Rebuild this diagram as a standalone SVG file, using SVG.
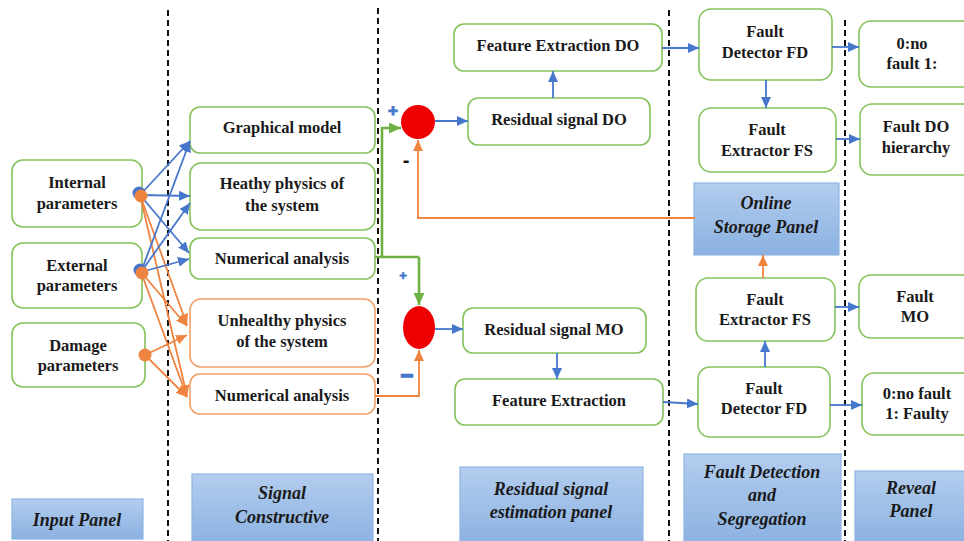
<svg xmlns="http://www.w3.org/2000/svg" width="964" height="541" viewBox="0 0 964 541">
  <style>
    .box { fill: #ffffff; stroke: #84c35c; stroke-width: 1.6; }
    .obox { fill: #ffffff; stroke: #f3a068; stroke-width: 1.6; }
    .panel { fill: url(#panelFill); stroke: #8fb5e3; stroke-width: 1.2; }
    .t { font-family: "Liberation Serif", "Times New Roman", serif; font-weight: bold; font-size: 16.5px; fill: #1a1a1a; text-anchor: middle; }
    .pt { font-family: "Liberation Serif", "Times New Roman", serif; font-weight: bold; font-style: italic; font-size: 18px; fill: #1a1a1a; text-anchor: middle; }
    .sep { stroke: #111111; stroke-width: 2; stroke-dasharray: 6 4; fill: none; }
    .blue { stroke: #4677cc; stroke-width: 1.8; fill: none; }
    .orange { stroke: #ef8440; stroke-width: 1.8; fill: none; }
    .green { stroke: #6fb043; stroke-width: 2.6; fill: none; }
    .ab { marker-end: url(#arrBlue); }
    .ao { marker-end: url(#arrOrange); }
    .ag { marker-end: url(#arrGreen); }
    .sign { font-family: "Liberation Sans", Arial, sans-serif; font-weight: bold; text-anchor: middle; }
  </style>
  <defs>
    <linearGradient id="panelFill" x1="0" y1="0" x2="0" y2="1">
      <stop offset="0" stop-color="#b3cdee"/>
      <stop offset="1" stop-color="#8ab1e1"/>
    </linearGradient>
    <marker id="arrBlue" markerUnits="userSpaceOnUse" markerWidth="11" markerHeight="10" refX="11" refY="5" orient="auto">
      <path d="M0,0 L11,5 L0,10 z" fill="#4677cc"/>
    </marker>
    <marker id="arrOrange" markerUnits="userSpaceOnUse" markerWidth="11" markerHeight="10" refX="11" refY="5" orient="auto">
      <path d="M0,0 L11,5 L0,10 z" fill="#ef8440"/>
    </marker>
    <marker id="arrGreen" markerUnits="userSpaceOnUse" markerWidth="12" markerHeight="11" refX="12" refY="5.5" orient="auto">
      <path d="M0,0 L12,5.5 L0,11 z" fill="#6fb043"/>
    </marker>
  </defs>

  <rect width="964" height="541" fill="#ffffff"/>

  <!-- panel separators -->
  <g id="separators">
    <line class="sep" x1="168" y1="10" x2="168" y2="541"/>
    <line class="sep" x1="378" y1="8" x2="378" y2="541"/>
    <line class="sep" x1="669" y1="10" x2="669" y2="541"/>
    <line class="sep" x1="845" y1="20" x2="845" y2="541"/>
  </g>

  <!-- input panel -->
  <g id="internal-parameters">
    <rect class="box" x="12" y="160" width="130" height="67" rx="11"/>
    <text class="t" x="77" y="188">Internal</text>
    <text class="t" x="77" y="209">parameters</text>
  </g>
  <g id="external-parameters">
    <rect class="box" x="12" y="243" width="130" height="65" rx="11"/>
    <text class="t" x="77" y="271">External</text>
    <text class="t" x="77" y="291">parameters</text>
  </g>
  <g id="damage-parameters">
    <rect class="box" x="12" y="323" width="133" height="64" rx="11"/>
    <text class="t" x="78" y="351">Damage</text>
    <text class="t" x="78" y="371">parameters</text>
  </g>

  <!-- signal construction -->
  <g id="graphical-model">
    <rect class="box" x="190" y="107" width="185" height="46" rx="10"/>
    <text class="t" x="282" y="133">Graphical model</text>
  </g>
  <g id="healthy-physics">
    <rect class="box" x="190" y="163" width="185" height="67" rx="11"/>
    <text class="t" x="282" y="189">Heathy physics of</text>
    <text class="t" x="282" y="211">the system</text>
  </g>
  <g id="numerical-analysis-healthy">
    <rect class="box" x="190" y="238" width="185" height="41" rx="10"/>
    <text class="t" x="282" y="264">Numerical analysis</text>
  </g>
  <g id="unhealthy-physics">
    <rect class="obox" x="190" y="299" width="185" height="68" rx="11"/>
    <text class="t" x="282" y="326">Unhealthy physics</text>
    <text class="t" x="282" y="347">of the system</text>
  </g>
  <g id="numerical-analysis-unhealthy">
    <rect class="obox" x="190" y="374" width="185" height="40" rx="10"/>
    <text class="t" x="282" y="401">Numerical analysis</text>
  </g>

  <!-- residual estimation -->
  <g id="comparator-do">
    <circle cx="418" cy="122" r="17" fill="#ee0000"/>
  </g>
  <g id="comparator-mo">
    <ellipse cx="419" cy="327.5" rx="16" ry="21.5" fill="#ee0000"/>
  </g>
  <g id="feature-extraction-do">
    <rect class="box" x="454" y="24" width="208" height="47" rx="10"/>
    <text class="t" x="558" y="51">Feature Extraction DO</text>
  </g>
  <g id="residual-signal-do">
    <rect class="box" x="468" y="98" width="182" height="47" rx="10"/>
    <text class="t" x="559" y="125">Residual signal DO</text>
  </g>
  <g id="residual-signal-mo">
    <rect class="box" x="463" y="308" width="183" height="45" rx="10"/>
    <text class="t" x="554" y="335">Residual signal MO</text>
  </g>
  <g id="feature-extraction-mo">
    <rect class="box" x="455" y="379" width="208" height="46" rx="10"/>
    <text class="t" x="559" y="406">Feature Extraction</text>
  </g>

  <!-- fault detection and segregation -->
  <g id="fault-detector-do">
    <rect class="box" x="699" y="9" width="133" height="71" rx="12"/>
    <text class="t" x="765" y="37">Fault</text>
    <text class="t" x="765" y="58">Detector FD</text>
  </g>
  <g id="fault-extractor-do">
    <rect class="box" x="699" y="108" width="137" height="64" rx="12"/>
    <text class="t" x="767" y="135">Fault</text>
    <text class="t" x="767" y="156">Extractor FS</text>
  </g>
  <g id="online-storage-panel">
    <rect class="panel" x="694" y="183" width="145" height="72"/>
    <text class="pt" x="766" y="209">Online</text>
    <text class="pt" x="766" y="233">Storage Panel</text>
  </g>
  <g id="fault-extractor-mo">
    <rect class="box" x="696" y="278" width="139" height="63" rx="12"/>
    <text class="t" x="765" y="305">Fault</text>
    <text class="t" x="765" y="325">Extractor FS</text>
  </g>
  <g id="fault-detector-mo">
    <rect class="box" x="698" y="367" width="132" height="70" rx="12"/>
    <text class="t" x="764" y="394">Fault</text>
    <text class="t" x="764" y="414">Detector FD</text>
  </g>

  <!-- reveal -->
  <g id="reveal-do-state">
    <rect class="box" x="859" y="21" width="115" height="66" rx="12"/>
    <text class="t" x="912" y="49">0:no</text>
    <text class="t" x="912" y="69">fault 1:</text>
  </g>
  <g id="reveal-do-hierarchy">
    <rect class="box" x="860" y="104" width="114" height="71" rx="12"/>
    <text class="t" x="916" y="132">Fault DO</text>
    <text class="t" x="916" y="153">hierarchy</text>
  </g>
  <g id="reveal-mo-fault">
    <rect class="box" x="859" y="275" width="115" height="63" rx="12"/>
    <text class="t" x="915" y="302">Fault</text>
    <text class="t" x="915" y="322">MO</text>
  </g>
  <g id="reveal-mo-state">
    <rect class="box" x="862" y="373" width="112" height="62" rx="12"/>
    <text class="t" x="917" y="399">0:no fault</text>
    <text class="t" x="917" y="419">1: Faulty</text>
  </g>

  <!-- panel captions -->
  <g id="caption-input">
    <rect class="panel" x="12" y="499" width="131" height="40"/>
    <text class="pt" x="77" y="526">Input Panel</text>
  </g>
  <g id="caption-signal">
    <rect class="panel" x="192" y="474" width="181" height="72"/>
    <text class="pt" x="282" y="499">Signal</text>
    <text class="pt" x="282" y="523">Constructive</text>
  </g>
  <g id="caption-residual">
    <rect class="panel" x="460" y="467" width="183" height="79"/>
    <text class="pt" x="551" y="495">Residual signal</text>
    <text class="pt" x="551" y="518">estimation panel</text>
  </g>
  <g id="caption-fault">
    <rect class="panel" x="684" y="454" width="157" height="92"/>
    <text class="pt" x="762" y="478">Fault Detection</text>
    <text class="pt" x="762" y="501">and</text>
    <text class="pt" x="762" y="525">Segregation</text>
  </g>
  <g id="caption-reveal">
    <rect class="panel" x="855" y="471" width="115" height="75"/>
    <text class="pt" x="911" y="494">Reveal</text>
    <text class="pt" x="911" y="517">Panel</text>
  </g>

  <!-- connectors, drawn over the node outlines -->
  <g id="connectors">
    <!-- internal parameters fan-out -->
    <line class="blue ab" x1="140" y1="195" x2="190" y2="141"/>
    <line class="blue ab" x1="140" y1="195" x2="190" y2="196"/>
    <line class="blue ab" x1="140" y1="195" x2="189" y2="253"/>
    <line class="orange ao" x1="140" y1="195" x2="187" y2="325"/>
    <line class="orange ao" x1="140" y1="195" x2="187" y2="396"/>
    <!-- external parameters fan-out -->
    <line class="blue ab" x1="141" y1="272" x2="190" y2="141"/>
    <line class="blue ab" x1="141" y1="272" x2="190" y2="203"/>
    <line class="blue ab" x1="141" y1="272" x2="189" y2="259"/>
    <line class="orange ao" x1="141" y1="272" x2="187" y2="326"/>
    <line class="orange ao" x1="141" y1="272" x2="187" y2="397"/>
    <!-- damage parameters fan-out -->
    <line class="orange ao" x1="145" y1="355" x2="187" y2="335"/>
    <line class="orange ao" x1="145" y1="355" x2="187" y2="397"/>

    <!-- healthy model output to both comparators -->
    <polyline class="green" points="375,257 419,257"/>
    <polyline class="green ag" points="382,257 382,128 401,128"/>
    <polyline class="green ag" points="419,257 419,305"/>

    <!-- unhealthy model output to lower comparator -->
    <polyline class="orange ao" points="375,396 419,396 419,350"/>

    <!-- stored signal back to upper comparator -->
    <polyline class="orange ao" points="695,218 418,218 418,140"/>

    <!-- DO chain -->
    <line class="blue ab" x1="435" y1="121" x2="468" y2="121"/>
    <line class="blue ab" x1="553" y1="98" x2="553" y2="71"/>
    <line class="blue ab" x1="662" y1="48" x2="699" y2="48"/>
    <line class="blue ab" x1="766" y1="80" x2="766" y2="108"/>
    <line class="blue ab" x1="832" y1="47" x2="859" y2="47"/>
    <line class="blue ab" x1="836" y1="139" x2="860" y2="139"/>

    <!-- MO chain -->
    <line class="blue ab" x1="435" y1="329" x2="463" y2="329"/>
    <line class="blue ab" x1="557" y1="353" x2="557" y2="379"/>
    <line class="blue ab" x1="663" y1="402" x2="698" y2="404"/>
    <line class="blue ab" x1="765" y1="367" x2="765" y2="341"/>
    <line class="orange ao" x1="763" y1="278" x2="763" y2="255"/>
    <line class="blue ab" x1="835" y1="307" x2="859" y2="307"/>
    <line class="blue ab" x1="830" y1="405" x2="862" y2="405"/>

    <!-- source dots -->
    <circle cx="139" cy="193" r="6.5" fill="#4677cc"/>
    <circle cx="141" cy="196" r="6.5" fill="#ef8440"/>
    <circle cx="140" cy="270" r="6.5" fill="#4677cc"/>
    <circle cx="142" cy="273" r="6.5" fill="#ef8440"/>
    <circle cx="145" cy="355" r="6.5" fill="#ef8440"/>

    <!-- comparator signs -->
    <text class="sign" x="393" y="116" font-size="17" fill="#4677cc" stroke="#4677cc" stroke-width="1">+</text>
    <text class="sign" x="406" y="167" font-size="20" fill="#111111">-</text>
    <text class="sign" x="403" y="280" font-size="13" fill="#4677cc" stroke="#4677cc" stroke-width="0.6">+</text>
    <text class="sign" x="407" y="383" font-size="22" fill="#4677cc" stroke="#4677cc" stroke-width="1.5">−</text>
  </g>
</svg>
